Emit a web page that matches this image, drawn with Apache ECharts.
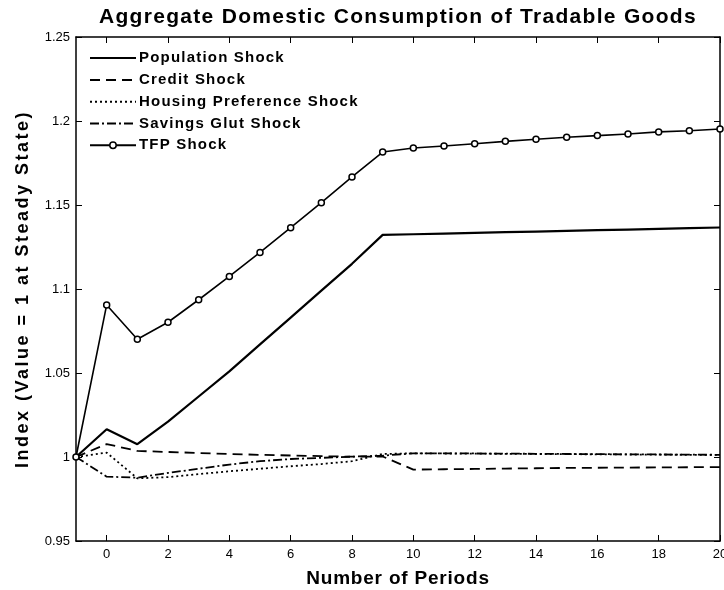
<!DOCTYPE html>
<html>
<head>
<meta charset="utf-8">
<script src="https://cdn.jsdelivr.net/npm/echarts@6/dist/echarts.min.js"></script>
<style>html,body{margin:0;padding:0;background:#fff}#c{width:724px;height:590px}</style>
</head>
<body>
<div id="c"></div>
<script>
const periods = [-1,0,1,2,3,4,5,6,7,8,9,10,11,12,13,14,15,16,17,18,19,20];
const population = [1.0,1.0165,1.0076,1.021,1.036,1.051,1.067,1.083,1.099,1.115,1.1322,1.1326,1.133,1.1334,1.1338,1.1342,1.1346,1.135,1.1354,1.1358,1.1362,1.1366];
const credit = [1.0,1.0077,1.0036,1.003,1.0024,1.0018,1.0013,1.0009,1.0005,1.0002,1.0003,0.9925,0.9927,0.9929,0.9931,0.9933,0.9935,0.9936,0.9937,0.9938,0.9939,0.994];
const housing = [1.0,1.0026,0.9873,0.988,0.9898,0.9915,0.993,0.9945,0.9958,0.9975,1.0018,1.0022,1.0021,1.002,1.0019,1.0018,1.0017,1.0016,1.0015,1.0014,1.0013,1.0012];
const savings = [1.0,0.9883,0.9877,0.9905,0.993,0.9955,0.9975,0.9988,0.9995,1.0002,1.0008,1.0022,1.0022,1.0021,1.002,1.0019,1.0018,1.0017,1.0016,1.0015,1.0014,1.0013];
const tfp = [1.0,1.0905,1.0701,1.0802,1.0936,1.1075,1.1218,1.1365,1.1514,1.1667,1.1815,1.1839,1.1851,1.1865,1.1879,1.1891,1.1903,1.1913,1.1923,1.1935,1.1942,1.1952];
const seriesNames = ['Population Shock','Credit Shock','Housing Preference Shock','Savings Glut Shock','TFP Shock'];
const xTicks = [0,2,4,6,8,10,12,14,16,18,20];

// letter spacing support for text drawn by ECharts on canvas (marker family "lsNN" = NN/10 px)
(function(){
  const P = CanvasRenderingContext2D.prototype;
  function applyLS(ctx){
    const m = /ls(\d+)/.exec(ctx.font || '');
    try { ctx.letterSpacing = m ? (parseInt(m[1],10)/10) + 'px' : '0px'; } catch(e) {}
  }
  const ft = P.fillText, mt = P.measureText;
  P.fillText = function(){ applyLS(this); return ft.apply(this, arguments); };
  P.measureText = function(){ applyLS(this); return mt.apply(this, arguments); };
})();

const pairs = arr => periods.map((p,i)=>[p,arr[i]]);
const FONT = 'Liberation Sans, Arial, sans-serif';
const lsFont = n => 'Liberation Sans, ls' + n + ', Arial, sans-serif';
const chart = echarts.init(document.getElementById('c'));
const axisLine = {show:true, onZero:false, lineStyle:{color:'#000', width:1.5}};
const tick = {show:true, inside:true, length:6, lineStyle:{color:'#000', width:1}};
function lineSeries(name, data, type, extra){
  return Object.assign({
    name, type:'line', data:pairs(data), symbol:'none', animation:false,
    lineStyle:{color:'#000', width:1.8, type:type},
    itemStyle:{color:'#000'}
  }, extra||{});
}
const hiddenSym = {color:'transparent', borderWidth:0, opacity:0};
chart.setOption({
  backgroundColor:'#fff',
  animation:false,
  title:{text:'Aggregate Domestic Consumption of Tradable Goods', left:393, textAlign:'center', top:1,
    textStyle:{fontFamily:lsFont(13), fontSize:21, fontWeight:'bold', color:'#000'}},
  legend:{show:true, orient:'vertical', left:84, top:45, itemWidth:46, itemHeight:8, itemGap:5.6,
    textStyle:{fontFamily:lsFont(12), fontSize:15, fontWeight:'bold', color:'#000', padding:[0,0,0,-2]},
    data:[
      {name:seriesNames[0], itemStyle:hiddenSym},
      {name:seriesNames[1], itemStyle:hiddenSym},
      {name:seriesNames[2], itemStyle:hiddenSym},
      {name:seriesNames[3], itemStyle:hiddenSym},
      {name:seriesNames[4], itemStyle:{color:'#fff', borderColor:'#000', borderWidth:1.5}}
    ]},
  grid:{left:76, right:4, top:37, bottom:49, outerBoundsMode:'none', containLabel:false},
  xAxis:[{
    type:'value', min:-1, max:20, position:'bottom',
    name:'Number of Periods', nameLocation:'middle', nameGap:28,
    nameTextStyle:{fontFamily:lsFont(8), fontSize:19, fontWeight:'bold', color:'#000'},
    axisLine, axisTick:Object.assign({customValues:xTicks}, tick),
    axisLabel:{customValues:xTicks, fontFamily:FONT, fontSize:13, color:'#000', margin:7},
    splitLine:{show:false}
  },{
    type:'value', min:-1, max:20, position:'top',
    axisLine, axisTick:Object.assign({customValues:xTicks}, tick),
    axisLabel:{show:false}, splitLine:{show:false}
  }],
  yAxis:[{
    type:'value', min:0.95, max:1.25, interval:0.05, position:'left',
    name:'Index (Value = 1 at Steady State)', nameLocation:'middle', nameGap:43,
    nameTextStyle:{fontFamily:lsFont(25), fontSize:18, fontWeight:'bold', color:'#000'},
    axisLine, axisTick:tick,
    axisLabel:{fontFamily:FONT, fontSize:13, color:'#000', margin:6},
    splitLine:{show:false}
  },{
    type:'value', min:0.95, max:1.25, interval:0.05, position:'right',
    axisLine, axisTick:tick, axisLabel:{show:false}, splitLine:{show:false}
  }],
  series:[
    lineSeries(seriesNames[0], population, 'solid', {lineStyle:{color:'#000', width:2.2, type:'solid'}}),
    lineSeries(seriesNames[1], credit, [10,6]),
    lineSeries(seriesNames[2], housing, [2,3]),
    lineSeries(seriesNames[3], savings, [9,3,2,3]),
    lineSeries(seriesNames[4], tfp, 'solid', {symbol:'circle', symbolSize:6, showSymbol:true,
      lineStyle:{color:'#000', width:1.6, type:'solid'},
      itemStyle:{color:'#fff', borderColor:'#000', borderWidth:1.5}})
  ]
});
</script>
</body>
</html>
